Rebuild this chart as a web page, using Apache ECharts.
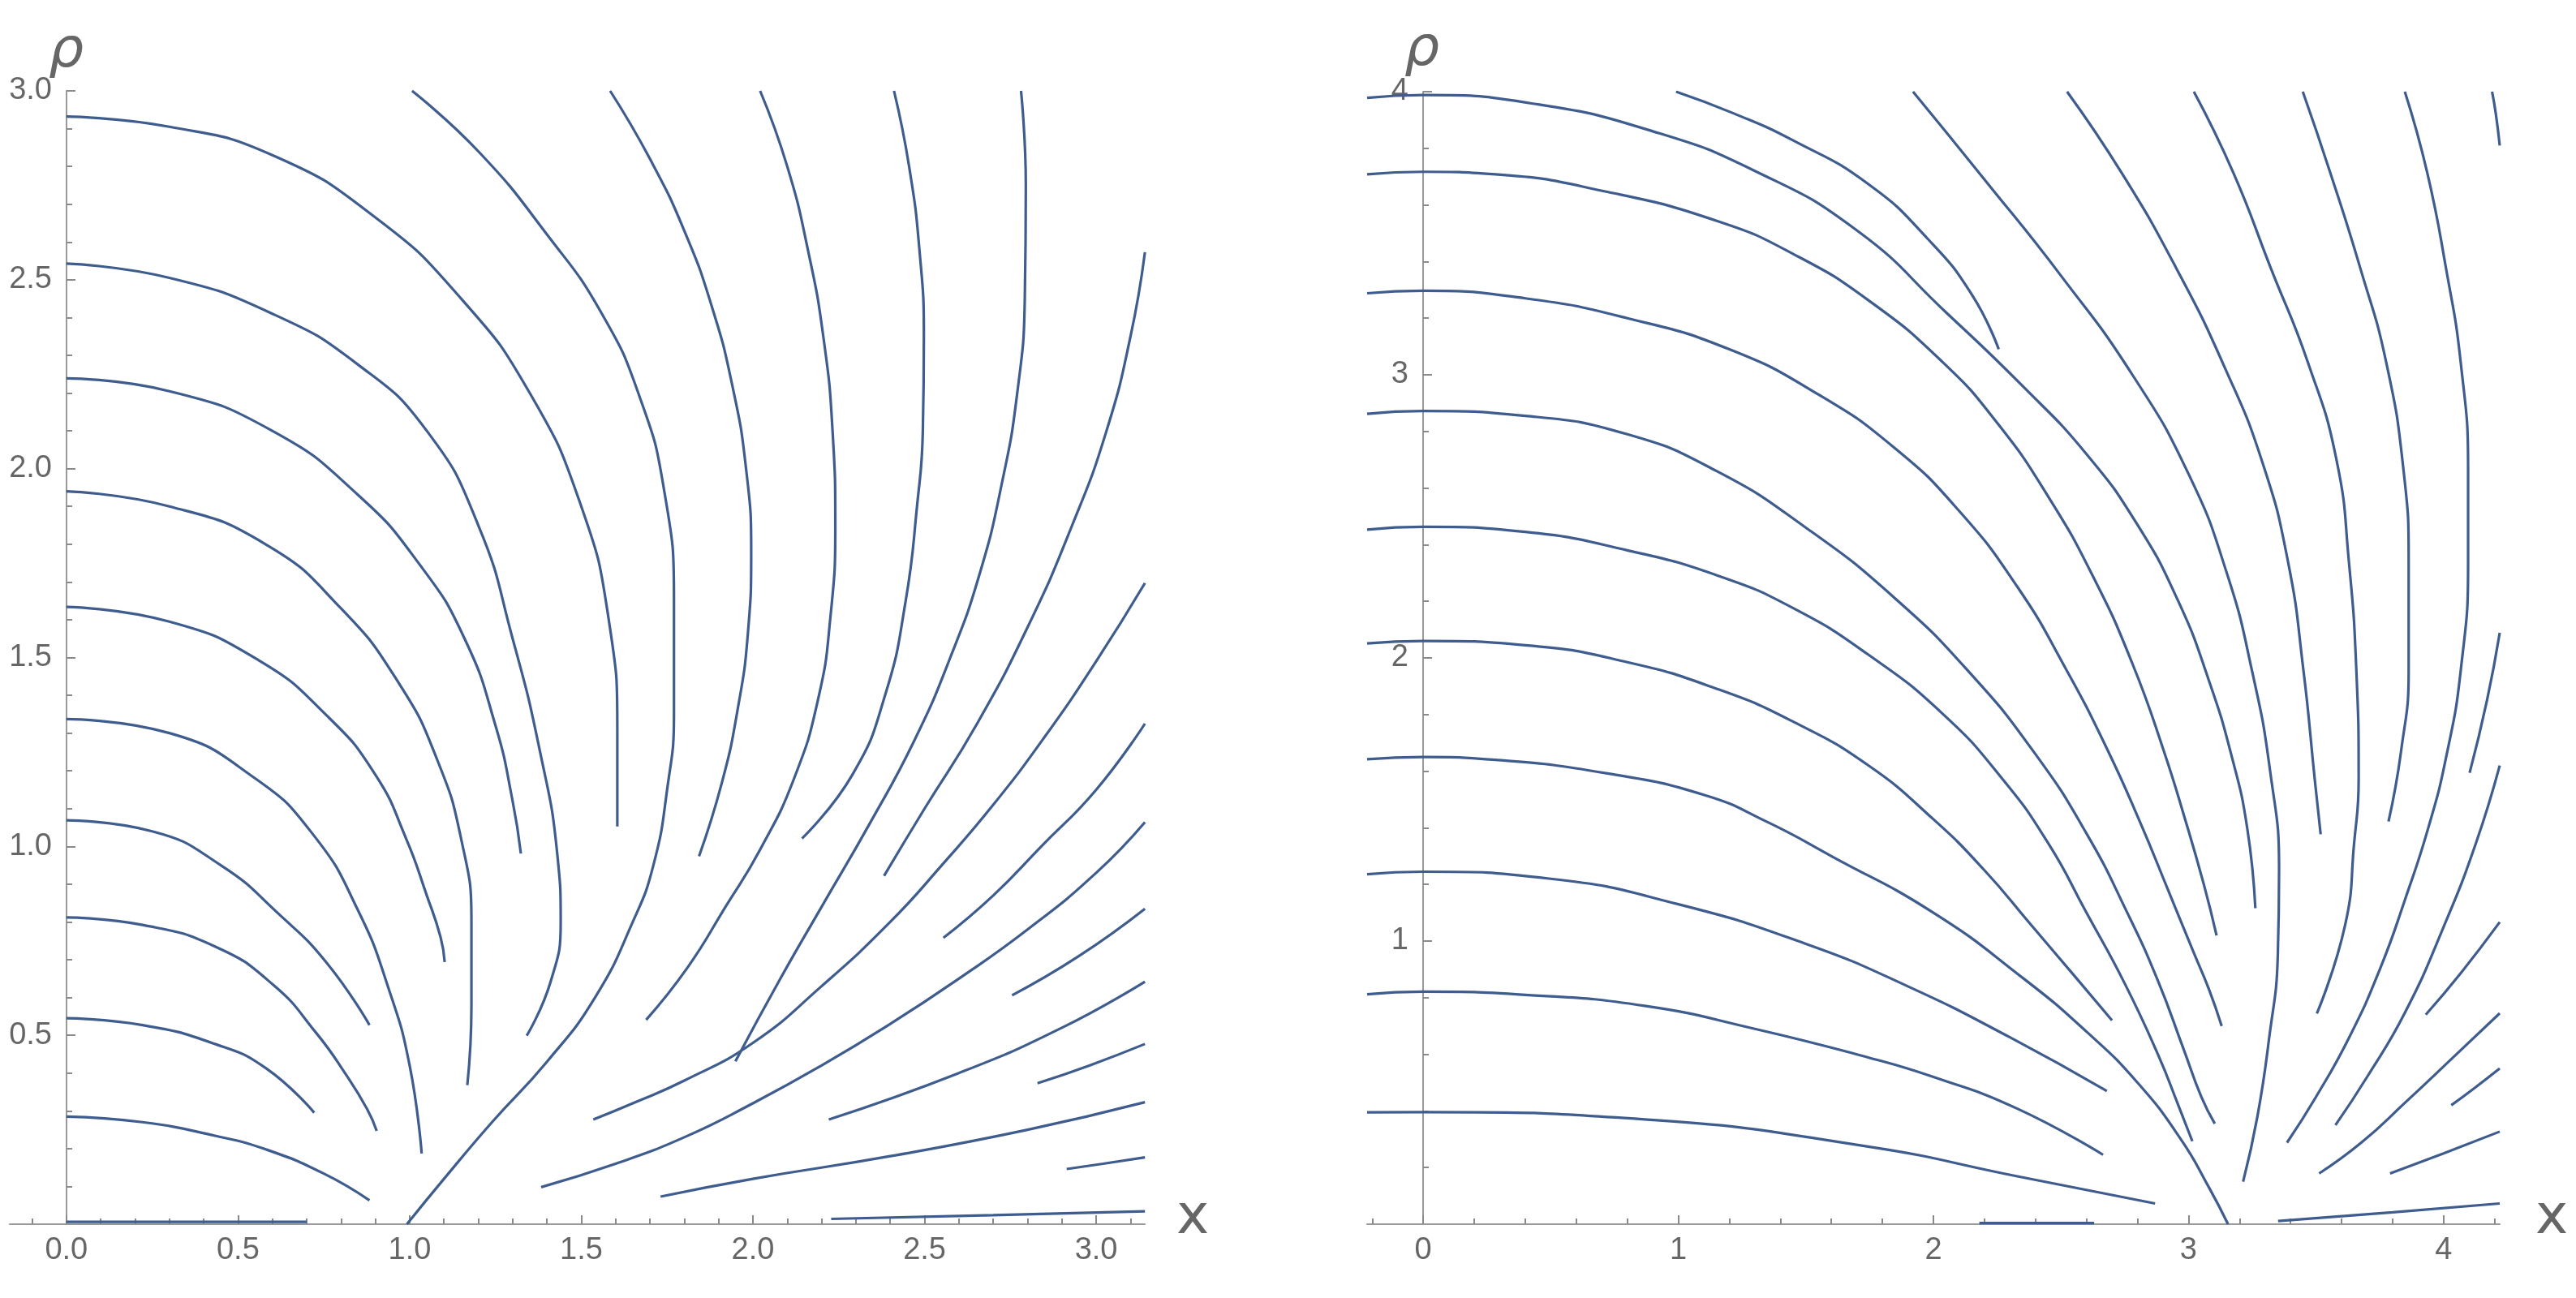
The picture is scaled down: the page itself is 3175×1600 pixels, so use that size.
<!DOCTYPE html>
<html><head><meta charset="utf-8">
<script src="https://cdn.jsdelivr.net/npm/echarts@6/dist/echarts.min.js"></script>
<style>html,body{margin:0;padding:0;background:#fff}#c{width:3175px;height:1600px}</style>
</head><body><div id="c"></div>
<script>
// ---------- tick values / labels ----------
const leftXMajor = [0, 0.5, 1, 1.5, 2, 2.5, 3];
const leftXMinor = [-0.1,0.1,0.2,0.3,0.4,0.6,0.7,0.8,0.9,1.1,1.2,1.3,1.4,1.6,1.7,1.8,1.9,2.1,2.2,2.3,2.4,2.6,2.7,2.8,2.9,3.1];
const leftYMajor = [0.5, 1, 1.5, 2, 2.5, 3];
const leftYMinor = [0.1,0.2,0.3,0.4,0.6,0.7,0.8,0.9,1.1,1.2,1.3,1.4,1.6,1.7,1.8,1.9,2.1,2.2,2.3,2.4,2.6,2.7,2.8,2.9];
const rightXMajor = [0, 1, 2, 3, 4];
const rightXMinor = [-0.2,0.2,0.4,0.6,0.8,1.2,1.4,1.6,1.8,2.2,2.4,2.6,2.8,3.2,3.4,3.6,3.8,4.2];
const rightYMajor = [1, 2, 3, 4];
const rightYMinor = [0.2,0.4,0.6,0.8,1.2,1.4,1.6,1.8,2.2,2.4,2.6,2.8,3.2,3.4,3.6,3.8];

// ---------- left panel streamlines (x, rho) ----------
const L_arc1 = [[0,2.932],[0.3,2.905],[0.6,2.83],[0.9,2.665],[1.15,2.45],[1.35,2.2],[1.5,1.9],[1.58,1.6],[1.605,1.3],[1.605,1.053]];
const L_arc2 = [[0,2.543],[0.3,2.505],[0.6,2.41],[0.85,2.275],[1.05,2.1],[1.2,1.85],[1.3,1.55],[1.38,1.25],[1.43,0.98],[1.44,0.80],[1.41,0.64],[1.341,0.499]];
const L_arc3 = [[0,2.239],[0.3,2.205],[0.6,2.1],[0.85,1.93],[1.03,1.745],[1.16,1.55],[1.25,1.32],[1.30,1.12],[1.324,0.981]];
const L_arc4 = [[0,1.94],[0.3,1.90],[0.58,1.80],[0.80,1.63],[0.97,1.43],[1.08,1.23],[1.15,1.02],[1.18,0.80],[1.18,0.58],[1.168,0.368]];
const L_arc5 = [[0,1.634],[0.3,1.595],[0.56,1.493],[0.76,1.345],[0.90,1.19],[0.99,1.02],[1.05,0.87],[1.09,0.76],[1.102,0.694]];
const L_arc6 = [[0,1.337],[0.3,1.30],[0.55,1.18],[0.72,1.03],[0.85,0.83],[0.94,0.62],[1.0,0.42],[1.035,0.187]];
const L_arc7 = [[0,1.069],[0.25,1.04],[0.45,0.95],[0.62,0.82],[0.76,0.69],[0.883,0.527]];
const L_arc8 = [[0,0.812],[0.222,0.792],[0.433,0.735],[0.602,0.634],[0.728,0.506],[0.813,0.398],[0.876,0.305],[0.904,0.247]];
const L_arc9 = [[0,0.545],[0.222,0.527],[0.433,0.477],[0.581,0.413],[0.722,0.295]];
const L_arc10 = [[0,0.285],[0.222,0.270],[0.433,0.234],[0.581,0.198],[0.750,0.134],[0.883,0.063]];
const L_axisLine = [[0,0.006],[0.7,0.006]];
const L_T1 = [[1.007,3.0],[1.2,2.84],[1.4,2.62],[1.56,2.41],[1.67,2.19],[1.74,1.95],[1.77,1.65],[1.77,1.35],[1.75,1.15],[1.71,0.95],[1.65,0.80],[1.54,0.60],[1.40,0.43],[1.24,0.27],[1.1,0.12],[0.992,0.0]];
const L_T2 = [[1.584,3.0],[1.70,2.82],[1.80,2.63],[1.88,2.43],[1.94,2.22],[1.98,2.0],[1.995,1.78],[1.985,1.56],[1.955,1.36],[1.91,1.17],[1.843,0.974]];
const L_T3 = [[2.021,3.0],[2.10,2.80],[2.16,2.58],[2.205,2.35],[2.232,2.10],[2.24,1.85],[2.225,1.60],[2.19,1.39],[2.12,1.18],[2.02,0.99],[1.92,0.84],[1.81,0.68],[1.689,0.541]];
const L_T4 = [[2.411,3.0],[2.455,2.80],[2.485,2.58],[2.498,2.35],[2.495,2.10],[2.478,1.90],[2.445,1.65],[2.385,1.40],[2.29,1.19],[2.143,1.021]];
const L_T5 = [[2.781,3.0],[2.795,2.75],[2.792,2.45],[2.77,2.2],[2.725,1.96],[2.66,1.72],[2.575,1.50],[2.47,1.28],[2.34,1.06],[2.20,0.84],[2.08,0.65],[1.949,0.431]];
const L_R1 = [[3.142,2.573],[3.10,2.35],[3.03,2.10],[2.93,1.85],[2.80,1.58],[2.65,1.32],[2.50,1.10],[2.382,0.922]];
const L_R2 = [[3.142,1.697],[3.0,1.49],[2.85,1.29],[2.7,1.11],[2.55,0.95],[2.4,0.80],[2.2,0.63],[2.0,0.48],[1.8,0.38],[1.65,0.32],[1.535,0.277]];
const L_R3 = [[3.142,1.325],[3.0,1.15],[2.84,1.0],[2.7,0.87],[2.555,0.758]];
const L_R4 = [[3.142,1.064],[3.0,0.93],[2.8,0.78],[2.6,0.65],[2.4,0.53],[2.2,0.42],[2.0,0.32],[1.8,0.23],[1.6,0.16],[1.383,0.098]];
const L_R5 = [[3.142,0.835],[2.95,0.71],[2.755,0.606]];
const L_R6 = [[3.142,0.642],[2.9,0.52],[2.6,0.40],[2.221,0.277]];
const L_R7 = [[3.142,0.477],[2.98,0.42],[2.829,0.373]];
const L_R8 = [[3.142,0.323],[2.8,0.25],[2.4,0.18],[2.0,0.12],[1.731,0.073]];
const L_R9 = [[3.142,0.177],[3.02,0.16],[2.914,0.146]];
const L_R10 = [[3.142,0.034],[2.7,0.024],[2.228,0.014]];

// ---------- right panel streamlines (x, rho) ----------
const R_A1 = [[-0.22,3.978],[0,3.988],[0.45,3.955],[0.9,3.86],[1.3,3.72],[1.7,3.51],[2.05,3.22],[2.35,2.96],[2.6,2.72],[2.8,2.47],[2.96,2.2],[3.08,1.92],[3.17,1.65],[3.23,1.40],[3.262,1.116]];
const R_A2 = [[-0.22,3.708],[0,3.717],[0.283,3.708],[0.722,3.646],[1.160,3.541],[1.452,3.426],[1.744,3.264],[2.037,3.044],[2.25,2.83],[2.45,2.57],[2.63,2.28],[2.78,1.98],[2.90,1.68],[2.99,1.42],[3.06,1.20],[3.11,1.02]];
const R_A3 = [[-0.22,3.288],[0,3.297],[0.4,3.27],[0.8,3.2],[1.2,3.09],[1.55,2.93],[1.85,2.74],[2.1,2.52],[2.33,2.25],[2.52,1.96],[2.68,1.68],[2.81,1.42],[2.92,1.18],[3.02,0.96],[3.08,0.83],[3.13,0.70]];
const R_A4 = [[-0.22,2.862],[0,2.872],[0.4,2.855],[0.8,2.79],[1.15,2.66],[1.5,2.46],[1.85,2.21],[2.15,1.94],[2.4,1.66],[2.6,1.38],[2.76,1.10],[2.88,0.86],[2.98,0.62],[3.05,0.45],[3.103,0.355]];
const R_A5 = [[-0.22,2.453],[0,2.463],[0.4,2.445],[0.8,2.38],[1.16,2.289],[1.452,2.175],[1.744,2.012],[2.037,1.802],[2.270,1.573],[2.451,1.344],[2.6,1.1],[2.75,0.85],[2.88,0.6],[2.96,0.42],[3.015,0.293]];
const R_A6 = [[-0.22,2.051],[0,2.060],[0.4,2.045],[0.8,1.985],[1.16,1.888],[1.452,1.774],[1.744,1.621],[2.0,1.43],[2.2,1.25],[2.38,1.06],[2.55,0.88],[2.70,0.72]];
const R_A7 = [[-0.22,1.642],[0,1.650],[0.283,1.640],[0.722,1.592],[1.102,1.516],[1.35,1.42],[1.6,1.30],[2.0,1.10],[2.35,0.87],[2.6,0.68],[2.8,0.5],[2.97,0.3],[3.08,0.13],[3.155,0.0]];
const R_A8 = [[-0.22,1.236],[0,1.245],[0.5,1.22],[1.0,1.13],[1.5,0.99],[1.9,0.84],[2.3,0.66],[2.68,0.47]];
const R_A9 = [[-0.22,0.812],[0,0.821],[0.4,0.81],[0.868,0.771],[1.3,0.69],[1.744,0.589],[2.0,0.52],[2.329,0.408],[2.665,0.245]];
const R_A10 = [[-0.22,0.395],[0,0.396],[0.868,0.370],[1.744,0.274],[2.329,0.169],[2.869,0.073]];
const R_axisLine = [[2.18,0.004],[2.63,0.004]];
const R_T1 = [[0.991,4.0],[1.218,3.923],[1.452,3.827],[1.744,3.674],[1.978,3.48],[2.153,3.28],[2.256,3.09]];
const R_T2 = [[1.92,4.0],[2.2,3.69],[2.5,3.35],[2.78,3.0],[3.0,2.65],[3.15,2.30],[3.25,1.95],[3.32,1.60],[3.355,1.25],[3.35,0.95],[3.315,0.65],[3.27,0.38],[3.214,0.15]];
const R_T3 = [[2.524,4.0],[2.74,3.71],[2.95,3.38],[3.14,3.03],[3.29,2.69],[3.39,2.34],[3.45,1.96],[3.495,1.57],[3.518,1.377]];
const R_T4 = [[3.021,4.0],[3.176,3.713],[3.322,3.378],[3.468,3.044],[3.58,2.70],[3.629,2.337],[3.658,1.955],[3.667,1.573],[3.649,1.344],[3.614,1.057],[3.503,0.744]];
const R_T5 = [[3.448,4.0],[3.556,3.713],[3.673,3.378],[3.775,3.044],[3.843,2.662],[3.863,2.337],[3.863,1.955],[3.833,1.669],[3.784,1.422]];
const R_T6 = [[3.848,4.0],[3.936,3.713],[4.009,3.378],[4.067,3.044],[4.096,2.662],[4.096,2.337],[4.067,1.955],[4.01,1.65],[3.94,1.40],[3.85,1.15],[3.75,0.90],[3.63,0.66],[3.50,0.45],[3.386,0.288]];
const R_T7 = [[4.19,4.0],[4.205,3.92],[4.22,3.81]];
const R_Ra = [[4.22,2.089],[4.17,1.85],[4.102,1.594]];
const R_Rb = [[4.22,1.62],[4.126,1.344],[4.0,1.05],[3.85,0.75],[3.7,0.52],[3.576,0.35]];
const R_Rc = [[4.22,1.067],[4.07,0.89],[3.93,0.74]];
const R_Rd = [[4.22,0.745],[4.05,0.6],[3.85,0.43],[3.68,0.29],[3.512,0.179]];
const R_Re = [[4.22,0.55],[4.12,0.48],[4.03,0.42]];
const R_Rf = [[4.22,0.327],[4.0,0.25],[3.79,0.179]];
const R_Rg = [[4.22,0.073],[3.8,0.042],[3.351,0.011]];

const leftCurves = [L_arc1,L_arc2,L_arc3,L_arc4,L_arc5,L_arc6,L_arc7,L_arc8,L_arc9,L_arc10,L_axisLine,
  L_T1,L_T2,L_T3,L_T4,L_T5,L_R1,L_R2,L_R3,L_R4,L_R5,L_R6,L_R7,L_R8,L_R9,L_R10];
const rightCurves = [R_A1,R_A2,R_A3,R_A4,R_A5,R_A6,R_A7,R_A8,R_A9,R_A10,R_axisLine,
  R_T1,R_T2,R_T3,R_T4,R_T5,R_T6,R_T7,R_Ra,R_Rb,R_Rc,R_Rd,R_Re,R_Rf,R_Rg];

// ---------- styling ----------
const LINE = '#3e5c8e';
const AX = '#9a9a9a';
const TICK = '#8a8a8a';
const TXT = '#666666';
const FONT = "'Liberation Sans Narrow','Liberation Sans',Arial,sans-serif";

function hiddenAxis(grid, min, max) {
  return {type:'value', gridIndex:grid, min:min, max:max, show:false};
}
function majorX(grid, min, max, ticks, fmt) {
  return {type:'value', gridIndex:grid, min:min, max:max, position:'bottom',
    axisLine:{show:true, onZero:false, lineStyle:{color:AX, width:2}},
    axisTick:{show:true, inside:true, length:11, customValues:ticks, lineStyle:{color:TICK, width:2}},
    axisLabel:{show:true, customValues:ticks, formatter:fmt, margin:14, color:TXT, fontSize:38, fontFamily:FONT},
    splitLine:{show:false}};
}
function minorX(grid, min, max, ticks) {
  return {type:'value', gridIndex:grid, min:min, max:max, position:'bottom',
    axisLine:{show:false, onZero:false},
    axisTick:{show:true, inside:true, length:7, customValues:ticks, lineStyle:{color:TICK, width:2}},
    axisLabel:{show:false}, splitLine:{show:false}};
}
function majorY(grid, min, max, ticks, fmt) {
  return {type:'value', gridIndex:grid, min:min, max:max, position:'left',
    axisLine:{show:true, onZero:false, lineStyle:{color:AX, width:2}},
    axisTick:{show:true, inside:true, length:11, customValues:ticks, lineStyle:{color:TICK, width:2}},
    axisLabel:{show:true, customValues:ticks, formatter:fmt, margin:18, color:TXT, fontSize:38, fontFamily:FONT},
    splitLine:{show:false}};
}
function minorY(grid, min, max, ticks) {
  return {type:'value', gridIndex:grid, min:min, max:max, position:'left',
    axisLine:{show:false, onZero:false},
    axisTick:{show:true, inside:true, length:7, customValues:ticks, lineStyle:{color:TICK, width:2}},
    axisLabel:{show:false}, splitLine:{show:false}};
}
const fmt1 = v => Number(v).toFixed(1);
const fmt0 = v => String(Math.round(v));

const series = [];
leftCurves.forEach(c => series.push({type:'line', xAxisIndex:0, yAxisIndex:0, data:c, showSymbol:false,
  smooth:0.5, silent:true, lineStyle:{color:LINE, width:3.2}}));
rightCurves.forEach(c => series.push({type:'line', xAxisIndex:3, yAxisIndex:3, data:c, showSymbol:false,
  smooth:0.5, silent:true, lineStyle:{color:LINE, width:3.2}}));

const G = {containLabel:false, outerBoundsMode:'none'};
const chart = echarts.init(document.getElementById('c'), null, {renderer:'canvas'});
chart.setOption({
  backgroundColor:'#ffffff',
  animation:false,
  grid:[
    Object.assign({left:12, top:112, width:1399, height:1397}, G),
    Object.assign({left:82, top:112, width:1329, height:1397}, G),
    Object.assign({left:1685, top:113, width:1396, height:1396}, G),
    Object.assign({left:1754, top:113, width:1327, height:1396}, G)
  ],
  xAxis:[
    majorX(0, -0.165, Math.PI, leftXMajor, fmt1),
    minorX(0, -0.165, Math.PI, leftXMinor),
    hiddenAxis(1, 0, Math.PI),
    majorX(2, -0.22, 4.22, rightXMajor, fmt0),
    minorX(2, -0.22, 4.22, rightXMinor),
    hiddenAxis(3, 0, 4.22)
  ],
  yAxis:[
    hiddenAxis(0, 0, 3),
    majorY(1, 0, 3, leftYMajor, fmt1),
    minorY(1, 0, 3, leftYMinor),
    hiddenAxis(2, 0, 4),
    majorY(3, 0, 4, rightYMajor, fmt0),
    minorY(3, 0, 4, rightYMinor)
  ],
  graphic:[
    {type:'text', left:60, top:30, style:{text:'ρ', font:"italic 68px 'DejaVu Sans'", fill:TXT}},
    {type:'text', left:1731, top:28, style:{text:'ρ', font:"italic 68px 'DejaVu Sans'", fill:TXT}},
    {type:'text', left:1450, top:1468, style:{text:'x', font:"68px 'DejaVu Sans'", fill:TXT}},
    {type:'text', left:3125, top:1468, style:{text:'x', font:"68px 'DejaVu Sans'", fill:TXT}}
  ],
  series:series
});
</script></body></html>
